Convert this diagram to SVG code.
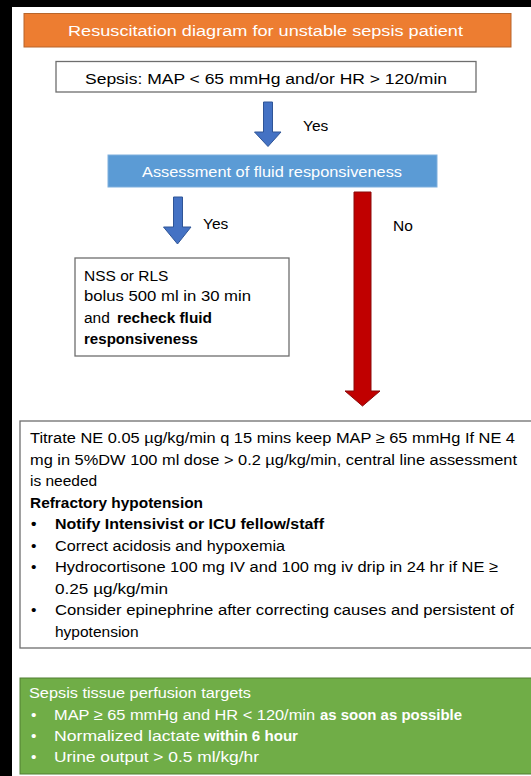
<svg xmlns="http://www.w3.org/2000/svg" width="531" height="776" viewBox="0 0 531 776">
<style>
  text { font-family: "Liberation Sans", Arial, sans-serif; font-size: 15.5px; fill: #000; }
  .w { fill: #fff; }
  .b { font-weight: bold; }
  .box { fill: #fff; stroke: #6e6e6e; stroke-width: 1.3; }
  .barrow { fill: #4472C4; stroke: #2F5597; stroke-width: 1; }
  .rarrow { fill: #C00000; stroke: #8B0A0A; stroke-width: 1; }
</style>
<rect x="0" y="0" width="531" height="776" fill="#fff"/>
<rect x="0" y="0" width="531" height="7" fill="#000"/>
<rect x="0" y="0" width="12" height="776" fill="#000"/>

<g id="title">
  <rect x="24" y="13.5" width="487" height="33.5" fill="#ED7D31" stroke="#B8652A" stroke-width="1"/>
  <text class="w" x="68" y="35.5" font-size="18.5" textLength="395" lengthAdjust="spacingAndGlyphs">Resuscitation diagram for unstable sepsis patient</text>
</g>

<g id="sepsis">
  <rect class="box" x="56" y="61.5" width="420" height="30.5"/>
  <text x="85" y="84" font-size="16.5" textLength="362" lengthAdjust="spacingAndGlyphs">Sepsis: MAP &lt; 65 mmHg and/or HR &gt; 120/min</text>
</g>

<g id="assessment">
  <rect x="108" y="155" width="329" height="32" fill="#5B9BD5" stroke="#7FAFDD" stroke-width="1"/>
  <text class="w" x="142" y="177" font-size="16" textLength="260" lengthAdjust="spacingAndGlyphs">Assessment of fluid responsiveness</text>
</g>

<g id="fluid">
  <rect class="box" x="75" y="258" width="214" height="98"/>
  <text x="84" y="281" font-size="16">NSS or RLS</text>
  <text x="84" y="301" textLength="167" lengthAdjust="spacingAndGlyphs">bolus 500 ml in 30 min</text>
  <text x="84" y="323" font-size="16">and</text>
  <text class="b" x="117" y="323" textLength="95" lengthAdjust="spacingAndGlyphs">recheck fluid</text>
  <text class="b" x="84" y="344" textLength="114" lengthAdjust="spacingAndGlyphs">responsiveness</text>
</g>

<g id="vasopressor">
  <rect class="box" x="20" y="421" width="520" height="227"/>
  <text x="30" y="443" textLength="485" lengthAdjust="spacingAndGlyphs">Titrate NE 0.05 µg/kg/min q 15 mins keep MAP ≥ 65 mmHg If NE 4</text>
  <text x="30" y="464.5" textLength="487" lengthAdjust="spacingAndGlyphs">mg in 5%DW 100 ml dose &gt; 0.2 µg/kg/min, central line assessment</text>
  <text x="30" y="486">is needed</text>
  <text class="b" x="30" y="507.5" textLength="173" lengthAdjust="spacingAndGlyphs">Refractory hypotension</text>
  <text class="b" x="31" y="529">•</text>
  <text class="b" x="55" y="529" textLength="269" lengthAdjust="spacingAndGlyphs">Notify Intensivist or ICU fellow/staff</text>
  <text x="31" y="550.5">•</text>
  <text x="55" y="550.5" textLength="230" lengthAdjust="spacingAndGlyphs">Correct acidosis and hypoxemia</text>
  <text x="31" y="572">•</text>
  <text x="55" y="572" textLength="443" lengthAdjust="spacingAndGlyphs">Hydrocortisone 100 mg IV and 100 mg iv drip in 24 hr if NE ≥</text>
  <text x="55" y="593.5" textLength="113" lengthAdjust="spacingAndGlyphs">0.25 µg/kg/min</text>
  <text x="31" y="615">•</text>
  <text x="55" y="615" textLength="459" lengthAdjust="spacingAndGlyphs">Consider epinephrine after correcting causes and persistent of</text>
  <text x="55" y="636.5">hypotension</text>
</g>

<g id="targets">
  <rect x="20" y="678" width="520" height="96" fill="#70AD47" stroke="#507E32" stroke-width="1"/>
  <text class="w" x="29" y="698" textLength="222" lengthAdjust="spacingAndGlyphs">Sepsis tissue perfusion targets</text>
  <text class="w" x="31" y="720">•</text>
  <text class="w" x="54" y="720" textLength="261" lengthAdjust="spacingAndGlyphs">MAP ≥ 65 mmHg and HR &lt; 120/min</text>
  <text class="w b" x="320" y="720" textLength="142" lengthAdjust="spacingAndGlyphs">as soon as possible</text>
  <text class="w" x="31" y="741">•</text>
  <text class="w" x="54" y="741" textLength="146" lengthAdjust="spacingAndGlyphs">Normalized lactate</text>
  <text class="w b" x="204" y="741" textLength="94" lengthAdjust="spacingAndGlyphs">within 6 hour</text>
  <text class="w" x="31" y="762">•</text>
  <text class="w" x="54" y="762" textLength="205" lengthAdjust="spacingAndGlyphs">Urine output &gt; 0.5 ml/kg/hr</text>
</g>

<g id="connectors">
  <path class="barrow" d="M263.5,102 H272.5 V132 H281 L268,146.5 L254.5,132 H263.5 Z"/>
  <text x="303" y="130.5" font-size="16">Yes</text>
  <path class="barrow" d="M173.5,197 H182.5 V227 H191 L177.5,244 L163.5,227 H173.5 Z"/>
  <text x="203" y="229" font-size="16">Yes</text>
  <path class="rarrow" d="M354,192 H371 V391 H380 L362.5,406 L345,391 H354 Z"/>
  <text x="393" y="231" font-size="16">No</text>
</g>
</svg>
